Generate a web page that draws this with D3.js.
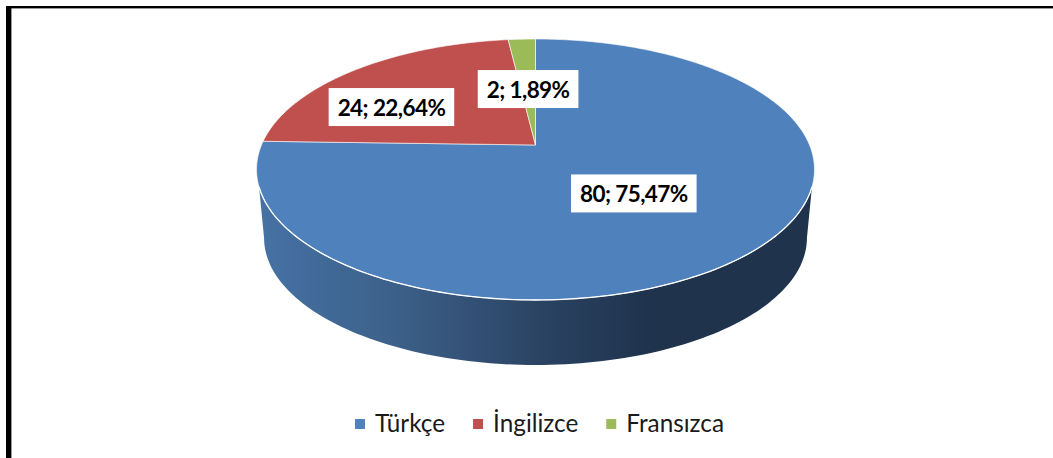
<!DOCTYPE html>
<html>
<head>
<meta charset="utf-8">
<script src="https://cdn.jsdelivr.net/npm/d3@7"></script>
<style>
  html, body { margin: 0; padding: 0; background: #fff; }
  svg { display: block; }
</style>
</head>
<body>
<svg id="chart" width="1053" height="458"></svg>
<script>
(function () {
  'use strict';

  var categories = ['Türkçe', 'İngilizce', 'Fransızca'];
  var values = [80, 24, 2];
  var percentLabels = ['75,47%', '22,64%', '1,89%'];
  var colors = ['#4f81bd', '#c0504d', '#9bbb59'];

  var width = 1053, height = 458;
  var svg = d3.select('#chart');

  // Perspective of the tilted disc, fitted to the top ellipse
  var cx = 535.5, apexY = 145, a = 274, b = 125.9, p = -0.1877;

  function project(angle, r) {
    var u = Math.sin(angle) * r;
    var v = -Math.cos(angle) * r;
    var w = 1 + p * v;
    return [cx + a * u / w, apexY + b * v / w];
  }

  // Lower rim is the same disc, a bit smaller and further down
  var shrink = 0.973, nadirY = 2707;
  function projectLow(angle) {
    var pt = project(angle, 1);
    return [cx + shrink * (pt[0] - cx), nadirY + shrink * (pt[1] - nadirY)];
  }

  // Angles of the front part of a rim, from the right side round to the left
  function frontAngles(v) {
    var lift = Math.asin(v);
    return d3.range(0, 121).map(function (i) {
      return Math.PI / 2 + lift + (Math.PI - 2 * lift) * i / 120;
    });
  }

  var line = d3.line();
  var pie = d3.pie().sort(null).value(function (d) { return d; });
  var arcs = pie(values);

  // Frame, only left and top sides are in the picture
  svg.append('rect').attr('x', 11).attr('y', 8).attr('width', 1).attr('height', height - 8).attr('fill', '#999');
  svg.append('rect').attr('x', 6).attr('y', 6).attr('width', 5).attr('height', height - 6).attr('fill', '#000');
  svg.append('rect').attr('x', 6).attr('y', 6).attr('width', width - 6).attr('height', 2.4).attr('fill', '#000');

  var defs = svg.append('defs');
  var grad = defs.append('linearGradient')
    .attr('id', 'sideGrad')
    .attr('gradientUnits', 'userSpaceOnUse')
    .attr('x1', 257).attr('x2', 814).attr('y1', 0).attr('y2', 0);
  [[0, '#4672a5'], [0.25, '#3c6089'], [0.5, '#2b4464'], [0.7, '#1f334d'], [1, '#1f334d']].forEach(function (s) {
    grad.append('stop').attr('offset', s[0]).attr('stop-color', s[1]);
  });

  // Side wall: front of the top rim and back along the lower rim
  var frontRim = frontAngles(0.314).map(function (t) { return project(t, 1); });
  var wall = frontRim.concat(frontAngles(-p).reverse().map(projectLow));
  svg.append('path').attr('d', line(wall) + 'Z').attr('fill', 'url(#sideGrad)');

  // Top face
  svg.selectAll('.slice')
    .data(arcs)
    .enter().append('path')
    .attr('class', 'slice')
    .attr('d', function (d) {
      var n = Math.max(4, Math.ceil((d.endAngle - d.startAngle) * 60));
      var pts = [project(0, 0)];
      d3.range(0, n + 1).forEach(function (i) {
        pts.push(project(d.startAngle + (d.endAngle - d.startAngle) * i / n, 1));
      });
      return line(pts) + 'Z';
    })
    .attr('fill', function (d, i) { return colors[i]; })
    .attr('stroke', '#fff')
    .attr('stroke-opacity', 0.6)
    .attr('stroke-width', 1)
    .attr('stroke-linejoin', 'round');

  // Bright edge where the top face meets the wall
  svg.append('path')
    .attr('d', line(frontRim))
    .attr('fill', 'none')
    .attr('stroke', '#fff')
    .attr('stroke-width', 1.3);

  // Data labels, red one was dragged left of its slice centre
  var labelNudge = [[-4, 0], [-49, 2], [0, 1.5]];
  arcs.forEach(function (d, i) {
    var pos = project((d.startAngle + d.endAngle) / 2, 0.5);
    var x = pos[0] + labelNudge[i][0];
    var y = pos[1] + labelNudge[i][1];
    var box = svg.append('rect').attr('fill', '#fff');
    var t = svg.append('text')
      .attr('x', x).attr('y', y + 8.5)
      .attr('text-anchor', 'middle')
      .style('font', '700 22.5px Lato, Carlito, sans-serif')
      .style('letter-spacing', '-0.6px')
      .style('fill', '#000')
      .text(values[i] + '; ' + percentLabels[i]);
    var w = t.node().getComputedTextLength() + 18;
    box.attr('x', x - w / 2).attr('y', y - 19).attr('width', w).attr('height', 38);
  });

  // Legend
  var legendX = 355;
  categories.forEach(function (c, i) {
    svg.append('rect').attr('x', legendX).attr('y', 419).attr('width', 10).attr('height', 10).attr('fill', colors[i]);
    var t = svg.append('text')
      .attr('x', legendX + 20).attr('y', 432)
      .style('font', '400 24.3px Lato, Carlito, sans-serif')
      .style('fill', '#1a1a1a')
      .text(c);
    legendX += 20 + t.node().getComputedTextLength() + 28;
  });
})();
</script>
</body>
</html>
